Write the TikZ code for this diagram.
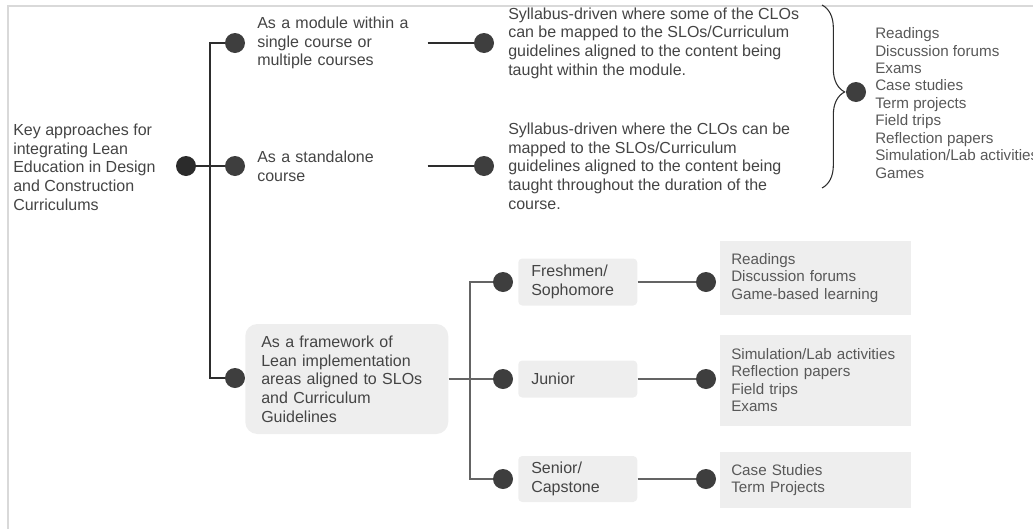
\documentclass[tikz,border=0pt]{standalone}
\usepackage{fontspec}
\setmainfont{Liberation Sans}
\usetikzlibrary{decorations.pathreplacing}
\definecolor{inkgray}{RGB}{68,68,68}
\definecolor{listgray}{RGB}{88,88,88}
\definecolor{dotgray}{RGB}{62,62,62}
\definecolor{rootgray}{RGB}{43,43,43}
\definecolor{boxgray}{RGB}{238,238,238}
\definecolor{framegray}{RGB}{217,217,217}
\definecolor{wiredark}{RGB}{45,45,45}
\definecolor{wirelight}{RGB}{100,100,100}
\tikzset{
  txt/.style={anchor=west, align=left, inner sep=0pt, text=inkgray, font=\fontsize{12pt}{14pt}\selectfont},
  lst/.style={txt, text=listgray, font=\fontsize{11.4pt}{13.1pt}\selectfont},
  dot/.style={circle, fill=dotgray, inner sep=0pt, minimum size=15pt},
  wire/.style={draw=wiredark, line width=0.8pt},
  lowwire/.style={draw=wirelight, line width=0.8pt},
  levelbox/.style={txt, fill=boxgray, rounded corners=3pt, inner xsep=9.75pt, text width=69.75pt},
  listbox/.style={lst, fill=boxgray, inner xsep=8.25pt, text width=126.75pt}
}

\begin{document}
\begin{tikzpicture}[x=0.75pt,y=-0.75pt]
\useasboundingbox (0,0) rectangle (1033,529);
\draw[framegray, line width=1.5pt] (8,529) -- (8,6) -- (1033,6);

\node[txt] (root) at (13,167) {Key approaches for\\integrating Lean\\Education in Design\\and Construction\\Curriculums};
\node[dot, fill=rootgray] (rootdot) at (186,166) {};
\node[dot] (moddot) at (235,43) {};
\node[dot] (sadot) at (235,166) {};
\node[dot] (fwdot) at (235,378) {};
\coordinate (trunk) at (210,166);
\draw[wire] (rootdot) -- (sadot);
\draw[wire] (moddot) -| (trunk) |- (fwdot);

\node[txt, text width=127.5pt] (modtxt) at (257,43) {As a module within a\\single course or\\multiple courses};
\node[txt, text width=127.5pt] (satxt) at (257,166) {As a standalone\\course};
\node[dot] (syl1dot) at (484,43) {};
\node[dot] (syl2dot) at (484,166) {};
\draw[wire] (modtxt.east) -- (syl1dot);
\draw[wire] (satxt.east) -- (syl2dot);
\node[txt] (syl1) at (508,43) {Syllabus-driven where some of the CLOs\\can be mapped to the SLOs/Curriculum\\guidelines aligned to the content being\\taught within the module.};
\node[txt] (syl2) at (508,166) {Syllabus-driven where the CLOs can be\\mapped to the SLOs/Curriculum\\guidelines aligned to the content being\\taught throughout the duration of the\\course.};

\coordinate (bracetop) at (822,5);
\coordinate (bracebot) at (822,188);
\draw[wire, decorate, decoration={brace, amplitude=17pt, aspect=0.475}] (bracetop) -- (bracebot);
\node[dot] (actdot) at (856,92) {};
\node[lst] (acts) at (875,103) {Readings\\Discussion forums\\Exams\\Case studies\\Term projects\\Field trips\\Reflection papers\\Simulation/Lab activities\\Games};

\node[txt, fill=boxgray, rounded corners=9pt, inner xsep=12pt, text width=128.25pt, minimum height=82.5pt] (fwbox) at (245,379) {As a framework of\\Lean implementation\\areas aligned to SLOs\\and Curriculum\\Guidelines};
\coordinate (branch) at (470,379);
\node[dot] (freshdot) at (503,282) {};
\node[dot] (jundot) at (503,379) {};
\node[dot] (sendot) at (503,479) {};
\draw[lowwire] (fwbox.east) -- (jundot);
\draw[lowwire] (freshdot) -| (branch) |- (sendot);

\node[levelbox, minimum height=35.25pt] (fresh) at (518,282) {Freshmen/\\Sophomore};
\node[levelbox, minimum height=27.75pt] (junior) at (518,379) {Junior};
\node[levelbox, minimum height=34.5pt] (senior) at (518,479) {Senior/\\Capstone};
\node[dot] (freshlistdot) at (706,282) {};
\node[dot] (junlistdot) at (706,379) {};
\node[dot] (senlistdot) at (706,479) {};
\draw[lowwire] (fresh.east) -- (freshlistdot);
\draw[lowwire] (junior.east) -- (junlistdot);
\draw[lowwire] (senior.east) -- (senlistdot);

\node[listbox, minimum height=55.5pt] (freshlist) at (720,278) {Readings\\Discussion forums\\Game-based learning};
\node[listbox, minimum height=68.25pt] (junlist) at (720,380) {Simulation/Lab activities\\Reflection papers\\Field trips\\Exams};
\node[listbox, minimum height=42pt] (senlist) at (720,480) {Case Studies\\Term Projects};
\end{tikzpicture}
\end{document}
